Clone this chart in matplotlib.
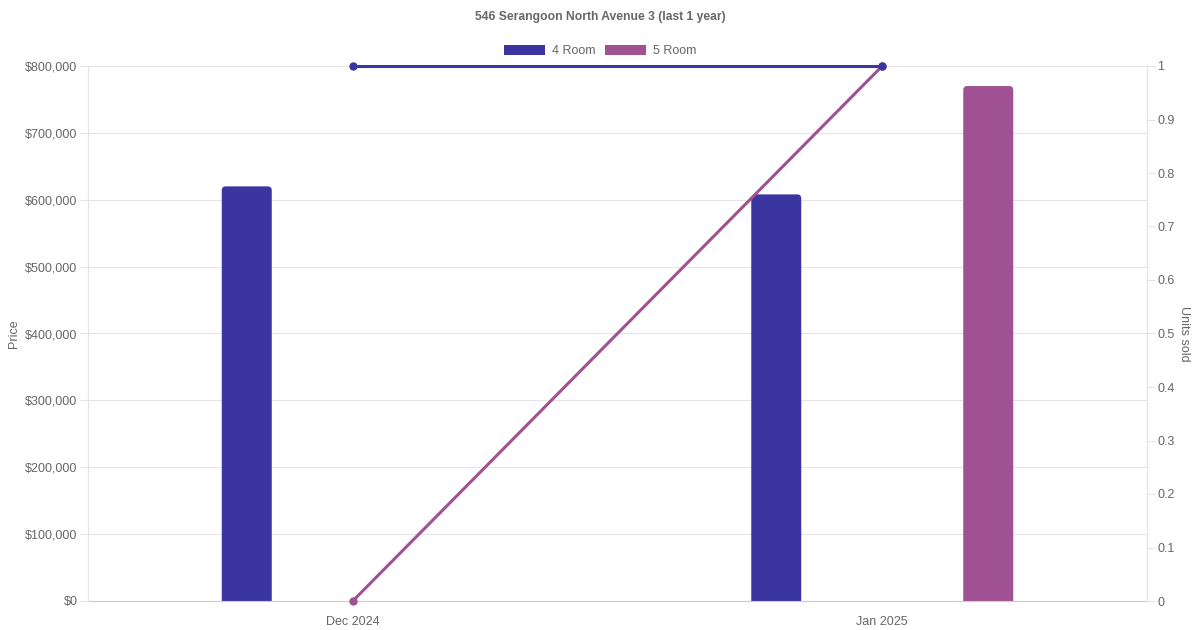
import matplotlib
matplotlib.use("Agg")
import matplotlib.pyplot as plt
from matplotlib.patches import FancyBboxPatch, Patch
from matplotlib.ticker import FuncFormatter, MultipleLocator

plt.rcParams['font.family'] = ['Liberation Sans', 'DejaVu Sans']

categories = ["Dec 2024", "Jan 2025"]
series = ["4 Room", "5 Room"]
price_4room = [620000, 608000]
price_5room = [None, 770000]
units_4room = [1, 1]
units_5room = [0, 1]
colors = ["#3a35a0", "#a05193"]
title = "546 Serangoon North Avenue 3 (last 1 year)"

W, H = 1200, 630
fig = plt.figure(figsize=(W / 100, H / 100), dpi=100)
L, R, T, B = 88, 1147, 66, 601
ax = fig.add_axes([L / W, 1 - B / H, (R - L) / W, (B - T) / H])
ax2 = ax.twinx()

txt = "#666666"
grid = "#e5e5e5"

x = list(range(len(categories)))
ax.set_xlim(-0.5, len(categories) - 0.5)
ax.set_ylim(0, 800000)
ax2.set_ylim(0, 1)

px_x = (len(categories)) / (R - L)          # x data units per pixel
px_y = 800000 / (B - T)                      # y data units per pixel
bar_w = 50 * px_x
offset = 106 * px_x
rad = 4 * px_x
aspect = px_y / px_x

for vals, col, off in [(price_4room, colors[0], -offset), (price_5room, colors[1], offset)]:
    for xi, v in zip(x, vals):
        if v is None:
            continue
        bars = ax.bar(xi + off, v, width=bar_w, color=col)
        for b in bars:
            bx, by = b.get_x(), b.get_y()
            bw, bh = b.get_width(), b.get_height()
            b.set_visible(False)
            p = FancyBboxPatch((bx, by - 10 * px_y), bw, bh + 10 * px_y,
                               boxstyle=f"round,pad=0,rounding_size={rad}",
                               mutation_aspect=aspect, facecolor=col,
                               edgecolor='none', clip_on=True, zorder=2)
            ax.add_patch(p)

ax2.plot(x, units_5room, color=colors[1], lw=2.2, marker='o', ms=5, zorder=3, clip_on=False)
ax2.plot(x, units_4room, color=colors[0], lw=2.2, marker='o', ms=5, zorder=4, clip_on=False)
ax2.set_zorder(ax.get_zorder() + 1)
ax2.patch.set_visible(False)

ax.set_xticks(x)
ax.set_xticklabels(categories)
ax.yaxis.set_major_locator(MultipleLocator(100000))
ax.yaxis.set_major_formatter(FuncFormatter(lambda v, p: f"${int(v):,}"))
ax2.yaxis.set_major_locator(MultipleLocator(0.1))
ax2.yaxis.set_major_formatter(FuncFormatter(lambda v, p: f"{round(v, 1):g}"))

ax.grid(axis='y', color=grid, lw=0.8)
ax.set_axisbelow(True)

for a in (ax, ax2):
    for s in a.spines.values():
        s.set_color(grid)
        s.set_linewidth(0.8)
    a.spines['top'].set_visible(False)
    a.tick_params(colors=txt, labelsize=9, length=6, width=0.8)
    a.tick_params(axis='both', color=grid)
ax.spines['bottom'].set_color("#cccccc")
ax2.spines['bottom'].set_visible(False)
ax.tick_params(axis='x', length=0, pad=11)
ax.tick_params(axis='y', pad=1.5)
ax2.tick_params(axis='y', pad=1.5)

ax.set_ylabel("Price", color=txt, fontsize=9, labelpad=4)
ax2.set_ylabel("Units sold", color=txt, fontsize=9, rotation=-90, labelpad=11)

fig.text(0.5, 1 - 17 / H, title, ha='center', va='center', color=txt,
         fontsize=8.7, fontweight='bold')

handles = [Patch(facecolor=c, edgecolor='none', label=s) for c, s in zip(colors, series)]
leg = fig.legend(handles=handles, loc='center', bbox_to_anchor=(0.5, 1 - 51 / H),
                 ncol=2, frameon=False, fontsize=9, handlelength=3.3, handleheight=0.9,
                 columnspacing=0.8, handletextpad=0.5, labelcolor=txt)

fig.savefig("out.png", dpi=100)
